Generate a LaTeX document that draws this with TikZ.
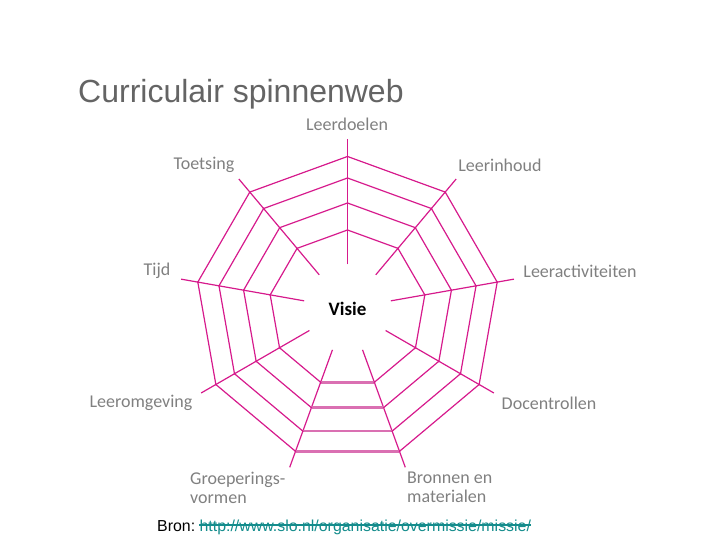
\documentclass[tikz,border=0pt]{standalone}
\usepackage{fontspec}
\setmainfont{Liberation Sans}
\newfontfamily\labelfont{Carlito}
\usetikzlibrary{calc}
\begin{document}
\begin{tikzpicture}[x=1pt,y=1pt]
		%---------------- Colors & styles ----------------
		\definecolor{web}{RGB}{214,26,140}     % magenta web lines
		\definecolor{webbase}{RGB}{218,112,178} % light bottom rungs
		\definecolor{labelgray}{RGB}{128,128,128}
		\definecolor{titlegray}{RGB}{100,100,100}
		\definecolor{linkteal}{RGB}{20,140,140}
		\tikzset{
			spoke/.style={web, line width=1.2pt},           % radial lines
			ring/.style={web, line width=1.2pt},            % nonagon rings
			rung/.style={webbase, line width=2.6pt},        % bottom segment
			knot/.style={web, fill=web},                    % dots on crossings
			axislabel/.style={labelgray, font=\labelfont\fontsize{18}{19}\selectfont},
		}
		
		%---------------- Page frame ----------------
		\useasboundingbox (0,0) rectangle (720,540);
		
		%---------------- Web geometry ----------------
		\coordinate (centre) at (347.5,231.5);
		\def\rin{44}    % inner end of spokes
		\def\rout{169}  % outer end of spokes
		
		%---------------- Spokes ----------------
		\foreach \a in {90,50,10,-30,-70,-110,-150,170,130}
		\draw[spoke] ($(centre)+(\a:\rin)$) -- ($(centre)+(\a:\rout)$);
		
		%---------------- Rings (open at the bottom) ----------------
		\foreach \r in {78.5,105.5,130.5,152}{
			\draw[ring] ($(centre)+(-70:\r)$)
			\foreach \a in {-30,10,50,90,130,170,-150,-110} { -- ($(centre)+(\a:\r)$) };
			\draw[rung] ($(centre)+(-110:\r)$) -- ($(centre)+(-70:\r)$);
			\foreach \a in {90,50,10,-30,-70,-110,-150,170,130}
			\fill[knot] ($(centre)+(\a:\r)$) circle (0.9pt);
		}
		
		%---------------- Labels ----------------
		\node[axislabel] (doelen) at (347,416) {Leerdoelen};
		\node[axislabel] (inhoud) at (500,375) {Leerinhoud};
		\node[axislabel] (activ) at (580,269) {Leeractiviteiten};
		\node[axislabel] (docent) at (549,137) {Docentrollen};
		\node[axislabel, anchor=west, align=left, inner sep=0pt] (bronnen) at (407,52.5) {Bronnen en\\materialen};
		\node[axislabel, anchor=west, align=left, inner sep=0pt] (groep) at (190,52.5) {Groeperings-\\vormen};
		\node[axislabel] (omgeving) at (141,137) {Leeromgeving};
		\node[axislabel] (tijd) at (157,269) {Tijd};
		\node[axislabel] (toets) at (204,375) {Toetsing};
		\node[font=\labelfont\bfseries\fontsize{19}{21}\selectfont] (visie) at (centre) {Visie};
		
		%---------------- Title & source ----------------
		\node[titlegray, anchor=base west, inner sep=0pt, font=\fontsize{32}{36}\selectfont] (title) at (78,437) {Curriculair spinnenweb};
		\node[anchor=base west, inner sep=0pt, font=\fontsize{15.9}{19}\selectfont] (bron) at (157,8) {Bron:};
		\node[linkteal, anchor=base west, inner sep=0pt, font=\fontsize{15.9}{19}\selectfont] (url) at ([xshift=4pt]bron.base east) {http://www.slo.nl/organisatie/overmissie/missie/};
		\draw[linkteal, line width=1.2pt] ([yshift=7pt]url.base west) -- ([yshift=7pt]url.base east);
	\end{tikzpicture}
\end{document}
